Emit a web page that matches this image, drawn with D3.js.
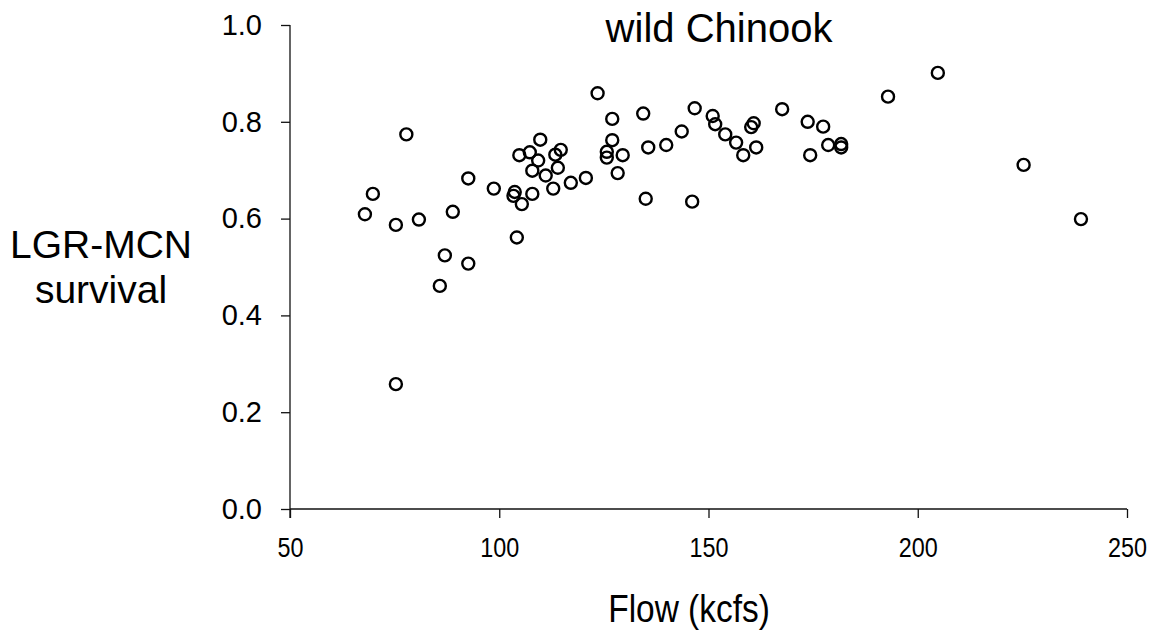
<!DOCTYPE html>
<html><head><meta charset="utf-8">
<script src="https://cdn.jsdelivr.net/npm/d3@7"></script>
<style>body{margin:0;background:#fff}svg{display:block;font-family:"Liberation Sans",Arial,sans-serif}</style>
</head><body><svg id="c" width="1155" height="641"></svg>
<script>
const flow = [67.9,69.8,75.3,75.3,77.8,80.8,85.8,87.0,88.9,92.6,92.6,98.7,103.7,103.4,104.2,104.8,105.4,107.3,107.9,107.9,109.3,109.8,111.1,112.9,113.4,114.0,114.7,117.1,120.7,123.5,125.7,125.7,127.0,127.0,128.3,129.5,134.4,135.0,135.6,139.9,143.6,146.1,146.7,151.0,151.6,154.0,156.6,158.3,160.2,160.8,161.4,167.6,173.7,174.3,177.4,178.6,181.7,181.7,192.9,204.8,225.3,239.0];
const survival = [0.609,0.651,0.587,0.258,0.774,0.598,0.461,0.524,0.614,0.507,0.683,0.662,0.655,0.647,0.561,0.731,0.630,0.737,0.699,0.651,0.720,0.763,0.689,0.662,0.732,0.705,0.742,0.674,0.684,0.859,0.738,0.726,0.806,0.762,0.694,0.731,0.817,0.641,0.747,0.752,0.780,0.635,0.828,0.812,0.795,0.774,0.757,0.731,0.789,0.797,0.747,0.826,0.800,0.731,0.790,0.752,0.754,0.747,0.852,0.901,0.711,0.599];
const xTicks = [50,100,150,200,250];
const yTicks = [0.0,0.2,0.4,0.6,0.8,1.0];
const title = "wild Chinook";
const xTitle = "Flow (kcfs)";
const yTitle = ["LGR-MCN","survival"];

const svg = d3.select("#c");
const x = d3.scaleLinear().domain([50,250]).range([290,1127]);
const y = d3.scaleLinear().domain([0,1]).range([509,25]);

const xAxis = svg.append("g").attr("transform","translate(0,509)")
  .call(d3.axisBottom(x).tickValues(xTicks).tickSize(9).tickPadding(19).tickFormat(d3.format("d")));
const yAxis = svg.append("g").attr("transform","translate(290,0)")
  .call(d3.axisLeft(y).tickValues(yTicks).tickSize(9).tickPadding(19).tickFormat(d3.format(".1f")));
[xAxis,yAxis].forEach(g=>{
  g.select(".domain").attr("stroke","#111").attr("stroke-width",1.3);
  g.selectAll(".tick line").attr("stroke","#111").attr("stroke-width",1.3);
  g.selectAll(".tick text").attr("fill","#000").style("font-family","'Liberation Sans',Arial,sans-serif");
});
xAxis.selectAll(".tick text").style("font-size","28px").attr("transform","scale(0.835,1)");
yAxis.selectAll(".tick text").style("font-size","29px");
yAxis.select(".domain").attr("d","M0,25V518");
xAxis.select(".domain").attr("d","M290,0H1127");

svg.append("g").selectAll("circle").data(flow.map((f,i)=>[f,survival[i]])).join("circle")
  .attr("cx",d=>x(d[0])).attr("cy",d=>y(d[1])).attr("r",6)
  .attr("fill","none").attr("stroke","#000").attr("stroke-width",2.4);

svg.append("text").attr("x",719).attr("y",42).attr("text-anchor","middle")
  .style("font-size","40px").text(title);
svg.append("text").attr("transform","translate(689,622) scale(0.88,1)").attr("text-anchor","middle")
  .style("font-size","38px").text(xTitle);
svg.append("text").attr("text-anchor","middle").style("font-size","39px")
  .selectAll("tspan").data(yTitle).join("tspan").attr("x",101).attr("y",(d,i)=>258+i*45).text(d=>d);
</script></body></html>
